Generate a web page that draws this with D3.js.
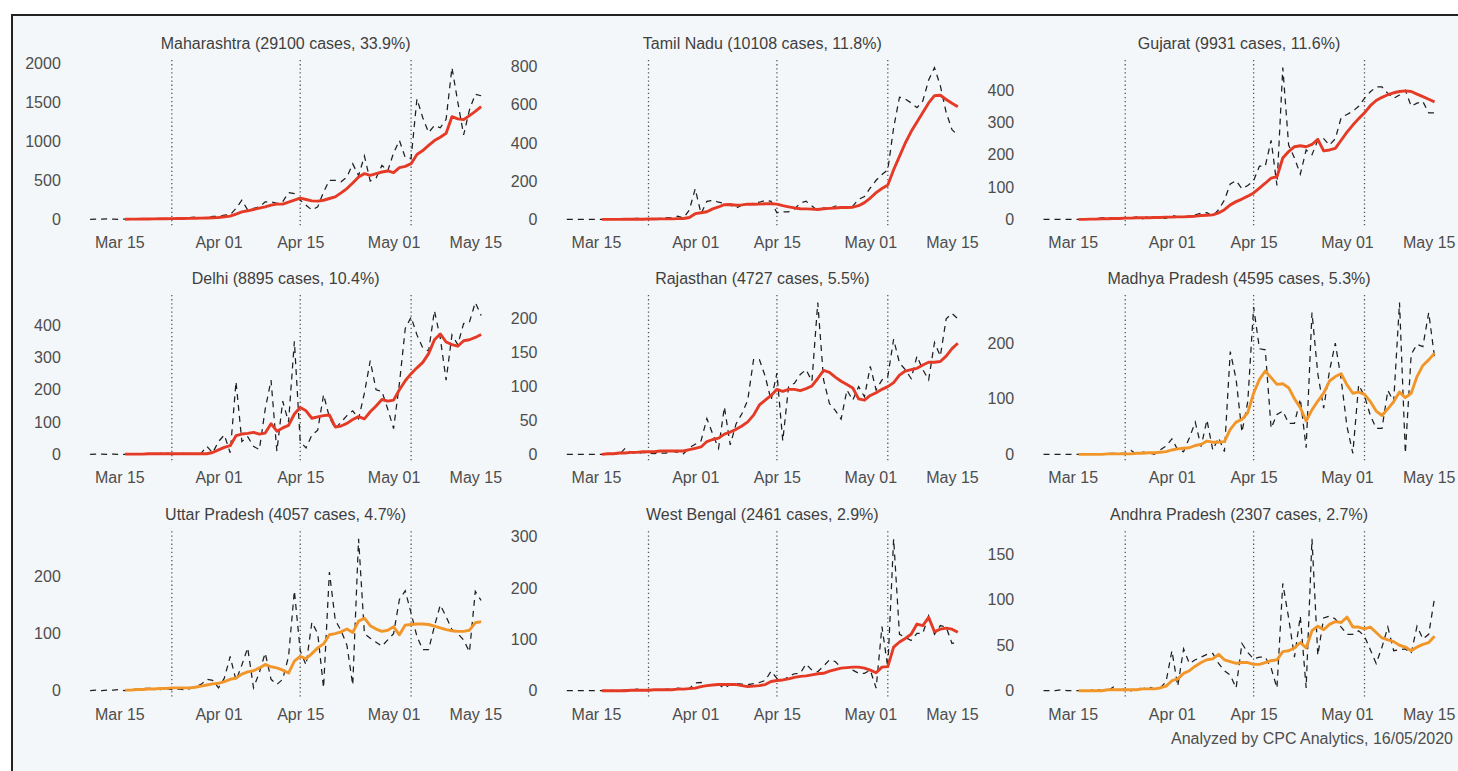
<!DOCTYPE html>
<html>
<head>
<meta charset="utf-8">
<script src="https://cdn.jsdelivr.net/npm/d3@7"></script>
<style>
  html, body { margin: 0; padding: 0; background: #ffffff; }
  svg { display: block; font-family: "Liberation Sans", Arial, Helvetica, sans-serif; }
</style>
</head>
<body>
<svg id="chart" width="1458" height="771"></svg>
<script>
// ---- Data: daily new COVID-19 cases for the nine states with most cases ----
const states = ["Maharashtra", "Tamil Nadu", "Gujarat", "Delhi", "Rajasthan",
                "Madhya Pradesh", "Uttar Pradesh", "West Bengal", "Andhra Pradesh"];
const totalCases = [29100, 10108, 9931, 8895, 4727, 4595, 4057, 2461, 2307];
const sharePct = [33.9, 11.8, 11.6, 10.4, 5.5, 5.3, 4.7, 2.9, 2.7];
// trend of the 7-day average: "rising" or "plateau"
const trendClass = ["rising", "rising", "rising", "rising", "rising",
                    "plateau", "plateau", "rising", "plateau"];

// daily series start on this date, 7-day averages on the second one
const dailyStartDate = "2020-03-10";
const avgStartDate = "2020-03-16";

// lockdown phase boundaries
const phaseDates = ["2020-03-24", "2020-04-15", "2020-05-04"];
const xTickDates = ["2020-03-15", "2020-04-01", "2020-04-15", "2020-05-01", "2020-05-15"];

const yTicksPerState = [
  [0, 500, 1000, 1500, 2000],
  [0, 200, 400, 600, 800],
  [0, 100, 200, 300, 400],
  [0, 100, 200, 300, 400],
  [0, 50, 100, 150, 200],
  [0, 100, 200],
  [0, 100, 200],
  [0, 100, 200, 300],
  [0, 50, 100, 150]
];

// daily new cases, Mar 10 - May 16
const dailyMaharashtra = [2,3,3,6,3,0,4,7,3,10,7,12,10,15,3,15,9,23,28,19,10,40,
  40,55,60,140,245,120,140,160,225,225,205,225,343,330,245,
  182,120,160,350,500,500,480,540,710,560,810,490,530,690,620,
  850,1008,790,780,1540,1300,1110,1200,1170,1280,1940,1500,1080,1400,1600,1580];
const dailyTamilNadu = [0,0,0,0,0,0,0,1,0,0,0,3,6,3,3,3,6,9,8,17,7,50,
  160,30,95,100,90,85,75,60,75,80,85,90,100,95,35,
  40,40,55,85,95,70,45,60,55,70,65,60,70,105,120,
  165,205,235,260,480,640,630,610,585,620,730,795,700,560,470,440];
const dailyGujarat = [0,0,0,0,0,0,0,0,0,2,5,6,4,5,3,5,8,2,11,6,5,3,
  13,8,7,10,14,19,21,10,30,60,110,120,95,105,120,
  165,165,245,105,470,230,190,140,215,200,245,250,230,250,315,
  325,335,350,375,395,410,410,390,375,385,400,350,360,365,330,330];
const dailyDelhi = [0,1,1,0,1,0,0,1,1,0,2,2,3,5,1,1,3,3,0,3,25,5,
  40,60,5,225,40,55,25,15,140,230,10,165,100,350,40,
  20,60,75,185,115,80,100,120,135,110,190,290,200,195,140,
  80,220,390,425,370,330,320,445,360,230,370,340,405,410,470,430];
const dailyRajasthan = [0,0,0,0,0,0,0,1,0,0,9,3,1,3,2,1,2,2,5,3,1,10,
  15,20,53,30,9,70,14,45,60,80,140,140,115,80,120,
  20,100,105,118,125,108,224,110,75,65,52,95,80,100,85,
  130,95,110,115,170,135,125,112,145,125,110,165,145,200,208,200];
const dailyMadhyaPradesh = [0,0,0,0,0,0,0,0,0,0,0,2,2,2,2,7,0,4,3,0,8,15,
  28,8,5,30,58,14,62,8,30,5,185,135,40,95,265,
  190,188,47,72,78,56,56,100,12,255,145,83,150,200,135,
  50,2,125,105,70,47,47,115,95,273,2,180,198,194,255,175];
const dailyUttarPradesh = [0,1,0,1,1,2,0,2,3,4,4,4,2,4,2,3,2,3,7,11,20,18,
  5,22,60,18,45,75,5,32,66,20,11,20,60,175,70,
  45,120,100,5,208,124,105,80,10,266,100,92,85,78,89,
  100,160,175,136,95,72,72,113,150,130,107,100,89,68,174,158];
const dailyWestBengal = [0,0,0,0,0,0,0,1,0,0,1,1,3,1,2,1,1,3,2,5,4,4,
  15,16,10,12,12,5,12,14,13,12,14,16,20,38,24,
  20,28,33,34,52,40,37,48,60,57,45,44,40,34,34,
  40,5,125,45,296,110,104,98,112,112,146,110,127,124,92,95];
const dailyAndhraPradesh = [0,0,0,1,0,0,0,0,0,2,0,0,4,1,2,0,3,2,4,2,3,10,
  44,5,46,30,34,37,40,41,30,22,17,3,52,42,35,
  37,37,25,3,118,80,37,82,3,167,39,80,82,79,70,
  62,62,66,60,45,30,48,70,44,45,46,41,71,57,62,102];

// 7-day average of new cases, Mar 16 - May 16
const avgMaharashtra = [2,3,4,5,6,7,8,9,10,11,12,13,14,16,18,21,
  25,34,42,68,97,110,127,144,161,182,195,195,220,245,271,
  254,237,233,245,267,288,339,394,466,542,585,564,585,606,619,
  597,661,678,712,830,880,945,1008,1050,1100,1313,1284,1275,1326,1380,1440];
const avgTamilNadu = [0,0,0,0,1,1,1,1,2,2,3,3,3,4,5,10,
  30,35,40,55,65,77,78,74,76,80,79,80,82,82,80,
  72,66,60,56,55,54,52,56,58,60,62,62,64,72,88,
  112,140,162,180,260,330,400,460,510,560,610,648,650,628,608,590];
const avgGujarat = [0,0,1,1,2,2,3,3,4,4,5,5,5,6,6,7,
  7,8,8,9,10,12,13,14,20,30,45,55,63,72,82,
  97,112,128,132,190,210,225,228,225,232,248,212,215,220,245,
  270,292,312,330,352,368,378,386,392,396,398,396,388,380,372,364];
const avgDelhi = [1,1,1,1,2,2,2,2,2,2,2,2,2,2,2,6,
  14,22,27,58,63,65,68,63,66,95,72,82,90,125,145,
  135,112,116,120,122,85,88,96,108,117,110,132,150,170,165,
  168,200,228,250,268,285,312,355,373,348,340,335,352,355,362,371];
const avgRajasthan = [0,1,1,2,2,3,3,4,4,4,5,5,5,5,5,7,
  9,11,19,22,24,30,33,37,42,48,58,73,80,87,96,
  93,96,96,94,97,101,112,124,121,114,108,103,98,82,80,
  87,91,96,100,106,117,123,125,127,132,136,136,137,145,156,164];
const avgMadhyaPradesh = [0,0,0,0,0,1,1,1,1,1,2,2,3,3,4,5,
  8,10,11,12,16,18,24,22,22,23,45,58,63,75,110,
  135,150,138,126,127,120,100,84,60,80,96,110,132,140,145,
  125,110,112,108,95,78,70,82,95,112,102,110,140,160,170,182];
const avgUttarPradesh = [1,1,2,2,3,3,4,4,5,5,5,5,6,8,10,12,
  13,16,20,22,29,33,35,40,46,42,40,36,31,52,60,
  56,65,75,82,98,100,103,108,102,122,127,114,108,104,106,
  112,98,115,116,117,117,116,113,110,107,105,104,104,106,119,121];
const avgWestBengal = [0,0,0,0,0,1,1,1,1,2,2,2,2,3,3,4,
  5,8,10,11,12,12,12,12,10,8,9,10,12,18,20,
  21,23,26,28,29,31,33,34,38,41,44,45,46,46,44,
  40,35,46,47,85,95,102,110,130,127,143,115,120,122,120,114];
const avgAndhraPradesh = [0,0,0,0,0,1,1,1,1,1,1,2,2,2,3,5,
  11,13,19,22,27,31,34,35,40,34,32,30,31,31,29,
  29,31,33,34,43,44,47,53,47,66,71,67,73,76,75,
  81,70,70,68,70,64,58,56,54,50,48,44,48,51,53,60];

const footerText = "Analyzed by CPC Analytics, 16/05/2020";

// ---- Build per-panel records ----
const dailySeries = [dailyMaharashtra, dailyTamilNadu, dailyGujarat, dailyDelhi, dailyRajasthan,
  dailyMadhyaPradesh, dailyUttarPradesh, dailyWestBengal, dailyAndhraPradesh];
const avgSeries = [avgMaharashtra, avgTamilNadu, avgGujarat, avgDelhi, avgRajasthan,
  avgMadhyaPradesh, avgUttarPradesh, avgWestBengal, avgAndhraPradesh];

const parseDate = d3.utcParse("%Y-%m-%d");
const dailyStart = parseDate(dailyStartDate);
const avgStart = parseDate(avgStartDate);
const toPoints = (vals, start) => vals.map((v, i) => ({ date: d3.utcDay.offset(start, i), v }));

const panels = states.map((name, i) => ({
  name,
  title: `${name} (${totalCases[i]} cases, ${sharePct[i].toFixed(1)}%)`,
  trend: trendClass[i],
  yTicks: yTicksPerState[i],
  daily: toPoints(dailySeries[i], dailyStart),
  avg: toPoints(avgSeries[i], avgStart)
}));

// ---- Layout ----
const W = 1458, H = 771;
const colRef = [119.3, 596, 1072.7];   // x of the first date tick in each column
const pxPerDay = 5.836;
const rowTop = [60, 295, 531.3];
const panelH = 167;
const trendColor = { rising: "#e53a26", plateau: "#f29629" };
const tickDates = xTickDates.map(parseDate);
const phases = phaseDates.map(parseDate);
const fmt = d3.utcFormat("%b %d");

const svg = d3.select("#chart");

// frame and background
svg.append("rect")
  .attr("x", 12).attr("y", 15)
  .attr("width", W).attr("height", H)
  .attr("fill", "#f4f7f9")
  .attr("stroke", "#222").attr("stroke-width", 2);

panels.forEach((p, i) => {
  const col = i % 3, row = Math.floor(i / 3);
  const x0 = colRef[col];
  const top = rowTop[row];

  const x = d3.scaleUtc()
    .domain([tickDates[0], tickDates[tickDates.length - 1]])
    .range([x0, x0 + d3.utcDay.count(tickDates[0], tickDates[tickDates.length - 1]) * pxPerDay]);

  const maxV = d3.max(p.daily, d => d.v);
  const y = d3.scaleLinear()
    .domain([-0.05 * maxV, 1.05 * maxV])
    .range([top + panelH, top]);

  const panelLeft = x(d3.utcDay.offset(dailyStart, 0)) - 0.05 * (x(p.daily[p.daily.length - 1].date) - x(dailyStart)) ;
  const panelRight = x(p.daily[p.daily.length - 1].date) + 0.05 * (x(p.daily[p.daily.length - 1].date) - x(dailyStart));

  const g = svg.append("g").attr("class", "panel");

  // title
  g.append("text")
    .attr("x", (panelLeft + panelRight) / 2)
    .attr("y", top - 11)
    .attr("text-anchor", "middle")
    .attr("font-size", 16)
    .attr("fill", "#3f3f3f")
    .text(p.title);

  // lockdown phase markers
  g.selectAll("line.phase")
    .data(phases)
    .join("line")
    .attr("class", "phase")
    .attr("x1", d => x(d)).attr("x2", d => x(d))
    .attr("y1", top).attr("y2", top + panelH)
    .attr("stroke", "#555")
    .attr("stroke-width", 1.3)
    .attr("stroke-dasharray", "1.3,2.8");

  // daily cases (dashed)
  const line = d3.line().x(d => x(d.date)).y(d => y(d.v));
  g.append("path")
    .datum(p.daily)
    .attr("d", line)
    .attr("fill", "none")
    .attr("stroke", "#1e1e1e")
    .attr("stroke-width", 1.25)
    .attr("stroke-dasharray", "6,5");

  // 7-day average
  g.append("path")
    .datum(p.avg)
    .attr("d", line)
    .attr("fill", "none")
    .attr("stroke", trendColor[p.trend])
    .attr("stroke-width", 2.9)
    .attr("stroke-linejoin", "round");

  // x axis labels
  const gx = g.append("g")
    .attr("transform", `translate(0,${top + panelH})`)
    .call(d3.axisBottom(x).tickValues(tickDates).tickFormat(fmt).tickSize(0).tickPadding(10));
  gx.select(".domain").remove();
  gx.attr("font-size", 16).attr("font-family", null);
  gx.selectAll("text").attr("fill", "#4d4d4d");

  // y axis labels
  const gy = g.append("g")
    .attr("transform", `translate(${x0 - 58.5},0)`)
    .call(d3.axisLeft(y).tickValues(p.yTicks).tickFormat(d3.format("d")).tickSize(0).tickPadding(0));
  gy.select(".domain").remove();
  gy.attr("font-size", 16).attr("font-family", null);
  gy.selectAll("text").attr("fill", "#4d4d4d");
});

// source note
svg.append("text")
  .attr("x", 1453).attr("y", 744)
  .attr("text-anchor", "end")
  .attr("font-size", 16)
  .attr("fill", "#4d4d4d")
  .text(footerText);
</script>
</body>
</html>
